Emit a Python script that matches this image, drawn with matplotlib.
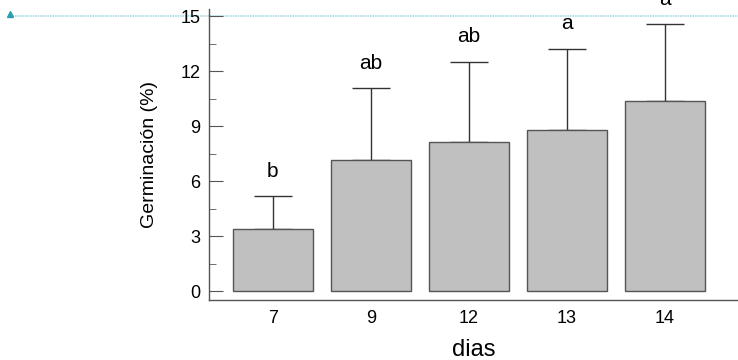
import matplotlib.pyplot as plt
import matplotlib.transforms as mtransforms
import numpy as np

plt.rcParams["font.family"] = ["Liberation Sans", "DejaVu Sans"]

dias = ["7", "9", "12", "13", "14"]
germinacion = [3.37, 7.15, 8.15, 8.8, 10.38]
error_sup = [1.8, 3.9, 4.35, 4.4, 4.17]
letras = ["b", "ab", "ab", "a", "a"]

fig = plt.figure(figsize=(7.38, 3.6), dpi=100)
ax = fig.add_axes([0.283, 0.1667, 0.717, 0.809])

x = np.arange(len(dias))
ax.bar(x, germinacion, width=0.815, color="#c0c0c0", edgecolor="#555555",
       linewidth=1.0, zorder=2)
ax.errorbar(x, germinacion, yerr=[np.zeros(len(x)), error_sup], fmt="none",
            ecolor="#333333", elinewidth=1.0, capsize=13.5, capthick=1.0,
            zorder=1)

for xi, g, e, t in zip(x, germinacion, error_sup, letras):
    ax.text(xi, g + e + 0.85, t, ha="center", va="bottom", fontsize=15)

ax.set_xlim(-0.653, 4.745)
ax.set_ylim(-0.49, 15.4)
ax.set_xticks(x)
ax.set_xticklabels(dias)
ax.set_yticks(np.arange(0, 16, 3))
ax.set_yticks(np.arange(0, 16, 1.5), minor=True)

for s in ["top", "right"]:
    ax.spines[s].set_visible(False)
for s in ["left", "bottom"]:
    ax.spines[s].set_color("#555555")
    ax.spines[s].set_linewidth(1.0)

ax.tick_params(axis="y", which="major", direction="in", length=10,
               color="#555555", labelsize=13, pad=6)
ax.tick_params(axis="y", which="minor", direction="in", length=5,
               color="#555555")
ax.tick_params(axis="x", length=0, labelsize=13, pad=7)

ax.set_ylabel("Germinación (%)", fontsize=14, labelpad=16)
ax.set_xlabel("dias", fontsize=17, labelpad=9)

# linea de referencia en 15 a todo lo ancho
trans = mtransforms.blended_transform_factory(fig.transFigure, ax.transData)
ax.plot([10 / 738, 1], [15, 15], transform=trans, clip_on=False,
        color="#a8dde0", linewidth=1.2, linestyle=(0, (1, 0.5)), zorder=0)
ax.plot([10 / 738], [15.1], transform=trans, clip_on=False, marker="^",
        color="#2a9fae", markersize=5, zorder=0)

fig.savefig("out.png", dpi=100)
